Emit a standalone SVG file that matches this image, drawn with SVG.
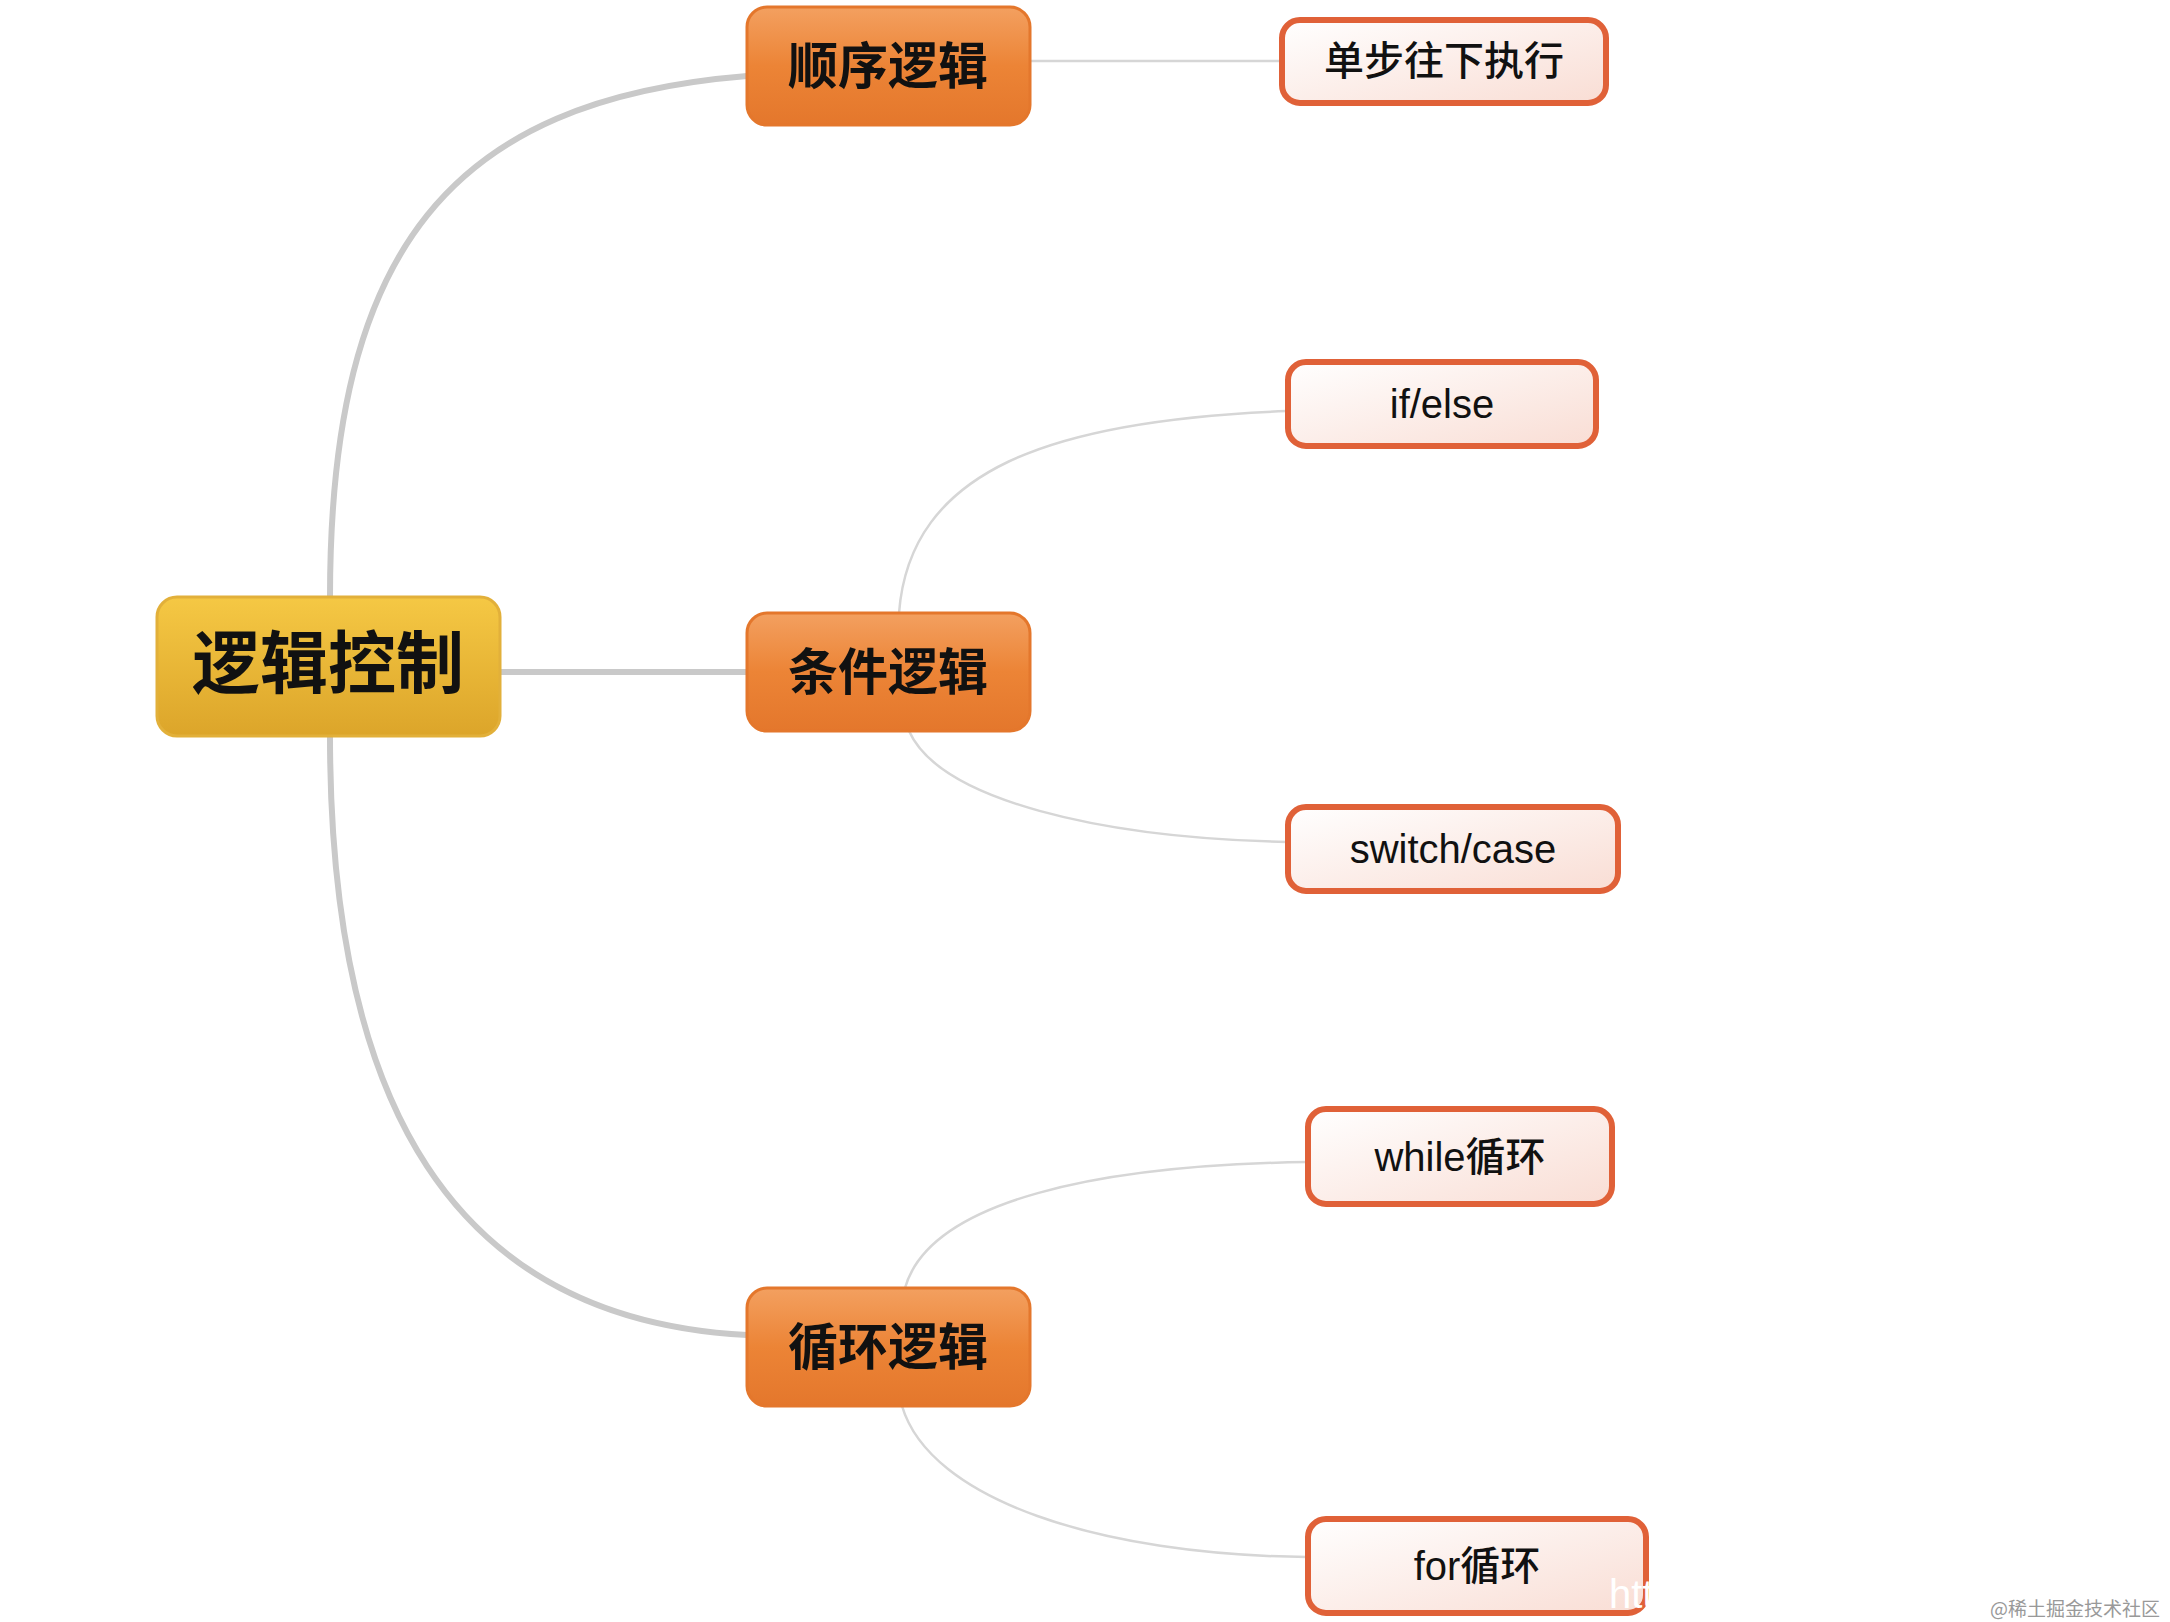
<svg xmlns="http://www.w3.org/2000/svg" width="2170" height="1622" viewBox="0 0 2170 1622">
<defs>
<linearGradient id="gOr" x1="0" y1="0" x2="0" y2="1"><stop offset="0" stop-color="#f3a060"/><stop offset="0.5" stop-color="#ec8436"/><stop offset="1" stop-color="#e4772c"/></linearGradient>
<linearGradient id="gGold" x1="0" y1="0" x2="0" y2="1"><stop offset="0" stop-color="#f5c844"/><stop offset="1" stop-color="#dca52a"/></linearGradient>
<linearGradient id="gLeaf" x1="0" y1="0" x2="1" y2="1"><stop offset="0" stop-color="#ffffff"/><stop offset="1" stop-color="#f9ddd4"/></linearGradient>
</defs>
<style>
.main{fill:url(#gOr);stroke:#e4772c;stroke-width:3}
.root{fill:url(#gGold);stroke:#e2b03a;stroke-width:3}
.leaf{fill:url(#gLeaf);stroke:#e06138;stroke-width:6}
.thick{fill:none;stroke:#c9c9c9;stroke-width:6}
.thin{fill:none;stroke:#d6d6d6;stroke-width:2.5}
text{font-family:"Liberation Sans","Noto Sans CJK SC",sans-serif;text-anchor:middle;fill:#111}
.tm{font-size:50px;font-weight:bold}
.tl{font-size:40px;font-weight:500}
</style>
<rect width="2170" height="1622" fill="#fff"/>
<g id="connectors">
<path class="thick" d="M330,597 C330,250 450,100 747,76"/>
<path class="thick" d="M500,672 L747,672"/>
<path class="thick" d="M330,736 C330,1100 450,1320 747,1335"/>
<path class="thin" d="M1030,61 L1280,61"/>
<path class="thin" d="M899,613 C910,470 1050,420 1287,411"/>
<path class="thin" d="M909,731 C940,800 1100,838 1287,842"/>
<path class="thin" d="M905,1288 C930,1200 1100,1165 1307,1162"/>
<path class="thin" d="M902,1406 C930,1500 1100,1555 1307,1557"/>
</g>
<g id="root"><rect class="root" x="157" y="597" width="343" height="139" rx="20"/><text x="328" y="688" style="font-size:68px;font-weight:bold">逻辑控制</text></g>
<g id="n1"><rect class="main" x="747" y="7" width="283" height="118" rx="20"/><text class="tm" x="888" y="84">顺序逻辑</text></g>
<g id="n2"><rect class="main" x="747" y="613" width="283" height="118" rx="20"/><text class="tm" x="888" y="690">条件逻辑</text></g>
<g id="n3"><rect class="main" x="747" y="1288" width="283" height="118" rx="20"/><text class="tm" x="888" y="1365">循环逻辑</text></g>
<g id="l1"><rect class="leaf" x="1282" y="20" width="324" height="83" rx="18"/><text class="tl" x="1444" y="75">单步往下执行</text></g>
<g id="l2"><rect class="leaf" x="1288" y="362" width="308" height="84" rx="18"/><text class="tl" x="1442" y="418">if/else</text></g>
<g id="l3"><rect class="leaf" x="1288" y="807" width="330" height="84" rx="18"/><text class="tl" x="1453" y="863">switch/case</text></g>
<g id="l4"><rect class="leaf" x="1308" y="1109" width="304" height="95" rx="18"/><text class="tl" x="1460" y="1171">while循环</text></g>
<g id="l5"><rect class="leaf" x="1308" y="1519" width="338" height="94" rx="18"/><text class="tl" x="1477" y="1580">for循环</text></g>
<text x="1609" y="1608" style="font-size:40px;fill:#fff;text-anchor:start">htt</text>
<text x="2160" y="1616" style="font-size:19px;fill:#999;text-anchor:end;font-family:'Noto Sans CJK SC',serif">@稀土掘金技术社区</text>
</svg>
